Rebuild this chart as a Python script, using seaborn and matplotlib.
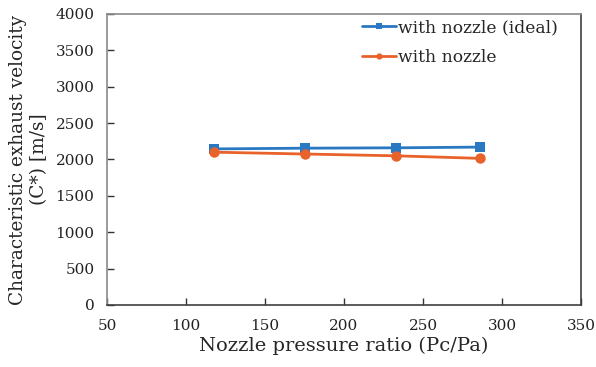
import numpy as np
import pandas as pd
import seaborn as sns
import matplotlib
matplotlib.use("Agg")
import matplotlib.pyplot as plt

pressure_ratio = [118, 175, 233, 286]
ideal_cstar = [2145, 2155, 2160, 2170]
real_cstar = [2100, 2075, 2050, 2015]
series_names = ["with nozzle (ideal)", "with nozzle"]

df = pd.DataFrame({
    "ratio": pressure_ratio * 2,
    "cstar": ideal_cstar + real_cstar,
    "series": [series_names[0]] * 4 + [series_names[1]] * 4,
})

sns.set_style("white")
plt.rcParams["font.family"] = ["DejaVu Serif"]

fig = plt.figure(figsize=(5.96, 3.67), dpi=100)
ax = fig.add_axes([0.1795, 0.169, 0.7955, 0.793])

sns.lineplot(data=df, x="ratio", y="cstar", hue="series", style="series",
             palette=["#2A78C2", "#E8622A"], markers=["s", "o"], dashes=False,
             markersize=7.5, linewidth=2, markeredgewidth=0, ax=ax)

ax.set_xlim(50, 350)
ax.set_ylim(0, 4000)
ax.set_xticks(np.arange(50, 351, 50))
ax.set_yticks(np.arange(0, 4001, 500))
ax.tick_params(axis="both", direction="in", length=5, width=1, labelsize=11,
               colors="#333333", labelcolor="#222222", bottom=True, left=True)
ax.tick_params(axis="x", pad=10)
ax.tick_params(axis="y", pad=9)
ax.set_xlabel("Nozzle pressure ratio (Pc/Pa)", fontsize=14, labelpad=3)
ax.set_ylabel("Characteristic exhaust velocity\n(C*) [m/s]", fontsize=13.3,
              labelpad=5, linespacing=1.25)

for side in ["left", "top"]:
    ax.spines[side].set_color("#8a8a8a")
for side in ["bottom", "right"]:
    ax.spines[side].set_color("#404040")
for s in ax.spines.values():
    s.set_linewidth(1.2)

leg = ax.legend(loc="upper right", frameon=False, fontsize=12.3, handlelength=2.0,
                handletextpad=0.15, borderaxespad=0.1, labelspacing=0.75,
                markerscale=0.6, bbox_to_anchor=(0.97, 1.012))

fig.savefig("out.png", dpi=100)
